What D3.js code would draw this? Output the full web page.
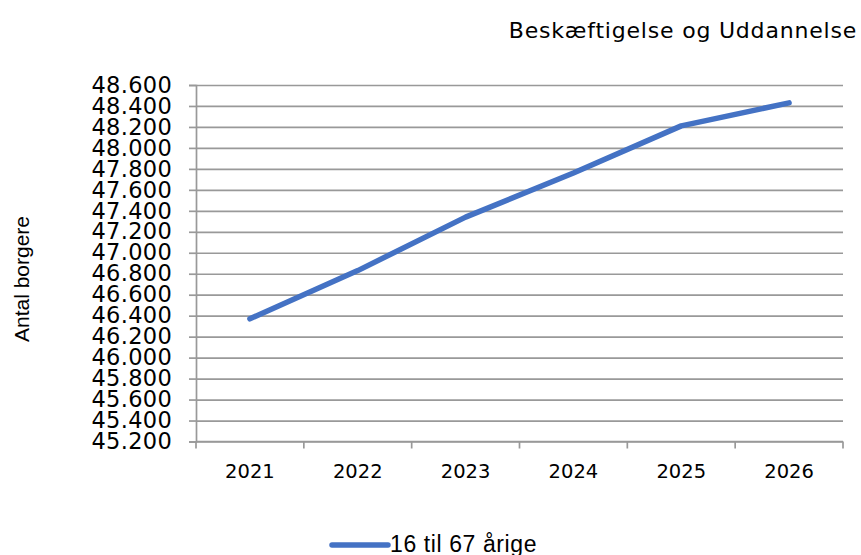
<!DOCTYPE html>
<html>
<head>
<meta charset="utf-8">
<script src="https://cdn.jsdelivr.net/npm/d3@7.9.0/dist/d3.min.js"></script>
<style>
  html, body { margin: 0; padding: 0; background: #fff; }
  svg { display: block; }
</style>
</head>
<body>
<div id="chart"></div>
<script>
/* ---------- data --------- */
const years  = ['2021', '2022', '2023', '2024', '2025', '2026'];
const values = [46370, 46830, 47340, 47760, 48210, 48430];
const seriesName = '16 til 67 årige';
const title = 'Beskæftigelse og Uddannelse';
const yTitle = 'Antal borgere';
const yTicks = d3.range(45200, 48601, 200);

/* ---------- layout --------- */
const W = 861, H = 555;
const area = { l: 196, r: 843, t: 85, b: 441.5 };

const svg = d3.select('#chart').append('svg')
  .attr('width', W).attr('height', H);

const x = d3.scaleBand().domain(years).range([area.l, area.r]);
const y = d3.scaleLinear().domain([45200, 48600]).range([area.b, area.t]);

const fmt = d => d3.format(',')(d).replace(/,/g, '.');

/* ---------- gridlines + y axis --------- */
svg.append('g')
  .attr('transform', `translate(${area.l},0)`)
  .call(d3.axisLeft(y).tickValues(yTicks).tickSize(-(area.r - area.l)).tickFormat(''))
  .call(g => g.select('.domain').remove())
  .call(g => g.selectAll('line').attr('stroke', '#999').attr('stroke-width', 1.7));

svg.append('g')
  .attr('transform', `translate(${area.l},0)`)
  .call(d3.axisLeft(y).tickValues(yTicks).tickSize(7).tickPadding(17).tickFormat(fmt))
  .call(g => g.select('.domain').attr('stroke', '#999').attr('stroke-width', 1.7))
  .call(g => g.selectAll('line').attr('stroke', '#999').attr('stroke-width', 1.7))
  .call(g => g.selectAll('text')
    .attr('font-family', '"DejaVu Sans", Verdana, sans-serif')
    .attr('font-size', 22.5).attr('letter-spacing', 0.3).attr('fill', '#000'));

/* ---------- x axis --------- */
const xa = svg.append('g').attr('transform', `translate(0,${area.b})`);
xa.append('line')
  .attr('x1', area.l).attr('x2', area.r)
  .attr('stroke', '#999').attr('stroke-width', 1.7);
xa.selectAll('line.tick')
  .data(d3.range(years.length + 1))
  .join('line')
  .attr('class', 'tick')
  .attr('x1', i => area.l + i * x.step()).attr('x2', i => area.l + i * x.step())
  .attr('y1', 0).attr('y2', 7)
  .attr('stroke', '#999').attr('stroke-width', 1.7);
xa.selectAll('text')
  .data(years)
  .join('text')
  .attr('x', d => x(d) + x.bandwidth() / 2)
  .attr('y', 36)
  .attr('text-anchor', 'middle')
  .attr('font-family', '"DejaVu Sans", Verdana, sans-serif')
  .attr('font-size', 19.5)
  .text(d => d);

/* ---------- line --------- */
const line = d3.line()
  .x((d, i) => x(years[i]) + x.bandwidth() / 2)
  .y(d => y(d));

svg.append('path')
  .datum(values)
  .attr('d', line)
  .attr('fill', 'none')
  .attr('stroke', '#4472C4')
  .attr('stroke-width', 5.5)
  .attr('stroke-linecap', 'round')
  .attr('stroke-linejoin', 'round');

/* ---------- titles --------- */
svg.append('text')
  .attr('x', 857).attr('y', 38)
  .attr('text-anchor', 'end')
  .attr('font-family', '"DejaVu Sans", Verdana, sans-serif')
  .attr('font-size', 22)
  .attr('letter-spacing', 0.8)
  .text(title);

svg.append('text')
  .attr('transform', 'translate(29,279) rotate(-90)')
  .attr('text-anchor', 'middle')
  .attr('font-family', '"Liberation Sans", Arial, sans-serif')
  .attr('font-size', 21)
  .text(yTitle);

/* ---------- legend --------- */
const lg = svg.append('g').attr('transform', 'translate(332,545)');
lg.append('line')
  .attr('x1', 0).attr('x2', 56)
  .attr('stroke', '#4472C4').attr('stroke-width', 5.5)
  .attr('stroke-linecap', 'round');
lg.append('text')
  .attr('x', 58).attr('y', 7)
  .attr('font-family', '"Liberation Sans", Arial, sans-serif')
  .attr('font-size', 23)
  .attr('letter-spacing', 0.6)
  .text(seriesName);
</script>
</body>
</html>
